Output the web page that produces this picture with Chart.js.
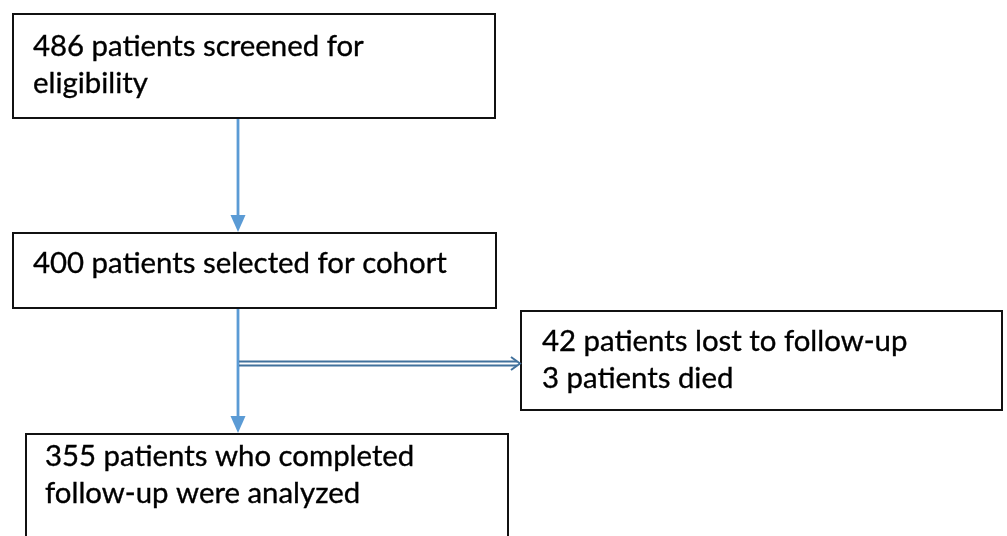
<!DOCTYPE html>
<html>
<head>
<meta charset="utf-8">
<script src="https://cdn.jsdelivr.net/npm/chart.js@4/dist/chart.umd.min.js"></script>
<style>
  html, body { margin: 0; padding: 0; background: #fff; }
  #wrap { width: 1007px; height: 536px; position: relative; }
</style>
</head>
<body>
<div id="wrap"><canvas id="flow"></canvas></div>
<script>
// patient counts at each stage of the flow
const counts = [486, 400, 42, 3, 355];

// text of each box, one entry per line
const boxLines = [
  [`${counts[0]} patients screened for`, "eligibility"],
  [`${counts[1]} patients selected for cohort`],
  [`${counts[2]} patients lost to follow-up`, `${counts[3]} patients died`],
  [`${counts[4]} patients who completed`, "follow-up were analyzed"],
];

// layout in scale units (the scales run 0..1007 x 0..536)
const boxes = [
  { x0: 13, y0: 14, x1: 495, y1: 118, tx: 33, ty: 56 },
  { x0: 13, y0: 233, x1: 496, y1: 308, tx: 33, ty: 273 },
  { x0: 521, y0: 311, x1: 1002, y1: 410, tx: 542, ty: 351 },
  { x0: 26, y0: 434, x1: 508, y1: 570, tx: 45, ty: 466 },
];
const lineGap = 37;
const spineX = 238;

const flowPlugin = {
  id: "flow",
  afterDraw(chart) {
    const ctx = chart.ctx;
    const sx = chart.scales.x;
    const sy = chart.scales.y;
    const px = (v) => sx.getPixelForValue(v);
    const py = (v) => sy.getPixelForValue(v);

    ctx.save();

    // fit the font so the first line has the reference width
    ctx.font = "100px Lato";
    const w = ctx.measureText(boxLines[0][0]).width;
    const size = (100 * 331) / w;

    // boxes
    boxes.forEach((b, i) => {
      ctx.fillStyle = "#ffffff";
      ctx.fillRect(px(b.x0), py(b.y0), px(b.x1) - px(b.x0), py(b.y1) - py(b.y0));
      ctx.strokeStyle = "#111111";
      ctx.lineWidth = 2;
      ctx.strokeRect(px(b.x0), py(b.y0), px(b.x1) - px(b.x0), py(b.y1) - py(b.y0));
      ctx.fillStyle = "#000000";
      ctx.strokeStyle = "#000000";
      ctx.lineWidth = 0.35;
      ctx.font = `${size}px Lato`;
      ctx.textBaseline = "alphabetic";
      boxLines[i].forEach((t, j) => {
        ctx.fillText(t, px(b.tx), py(b.ty + j * lineGap));
        ctx.strokeText(t, px(b.tx), py(b.ty + j * lineGap));
      });
    });

    // vertical arrows
    const arrowDown = (yFrom, yTip) => {
      ctx.strokeStyle = "#5b9bd5";
      ctx.lineWidth = 2.8;
      ctx.beginPath();
      ctx.moveTo(px(spineX), py(yFrom));
      ctx.lineTo(px(spineX), py(yTip - 14));
      ctx.stroke();
      ctx.fillStyle = "#5b9bd5";
      ctx.beginPath();
      ctx.moveTo(px(spineX - 7.5), py(yTip - 17));
      ctx.lineTo(px(spineX + 7.5), py(yTip - 17));
      ctx.lineTo(px(spineX), py(yTip));
      ctx.closePath();
      ctx.fill();
    };
    arrowDown(boxes[0].y1 + 1, boxes[1].y0 - 1);
    arrowDown(boxes[1].y1 + 1, boxes[3].y0 - 1);

    // double-line arrow to the exclusion box
    ctx.strokeStyle = "#41719c";
    ctx.lineWidth = 2;
    [361.5, 365.5].forEach((yy) => {
      ctx.beginPath();
      ctx.moveTo(px(spineX + 1), py(yy));
      ctx.lineTo(px(boxes[2].x0 - 4), py(yy));
      ctx.stroke();
    });
    ctx.lineWidth = 2;
    ctx.beginPath();
    ctx.moveTo(px(boxes[2].x0 - 10), py(357));
    ctx.lineTo(px(boxes[2].x0 - 1), py(363.5));
    ctx.lineTo(px(boxes[2].x0 - 10), py(370));
    ctx.stroke();

    ctx.restore();
  },
};

new Chart(document.getElementById("flow"), {
  type: "scatter",
  data: { datasets: [{ data: [] }] },
  options: {
    responsive: true,
    maintainAspectRatio: false,
    animation: false,
    layout: { padding: 0 },
    plugins: {
      legend: { display: false },
      tooltip: { enabled: false },
    },
    scales: {
      x: { type: "linear", min: 0, max: 1007, display: false },
      y: { type: "linear", min: 0, max: 536, reverse: true, display: false },
    },
  },
  plugins: [flowPlugin],
});
</script>
</body>
</html>
